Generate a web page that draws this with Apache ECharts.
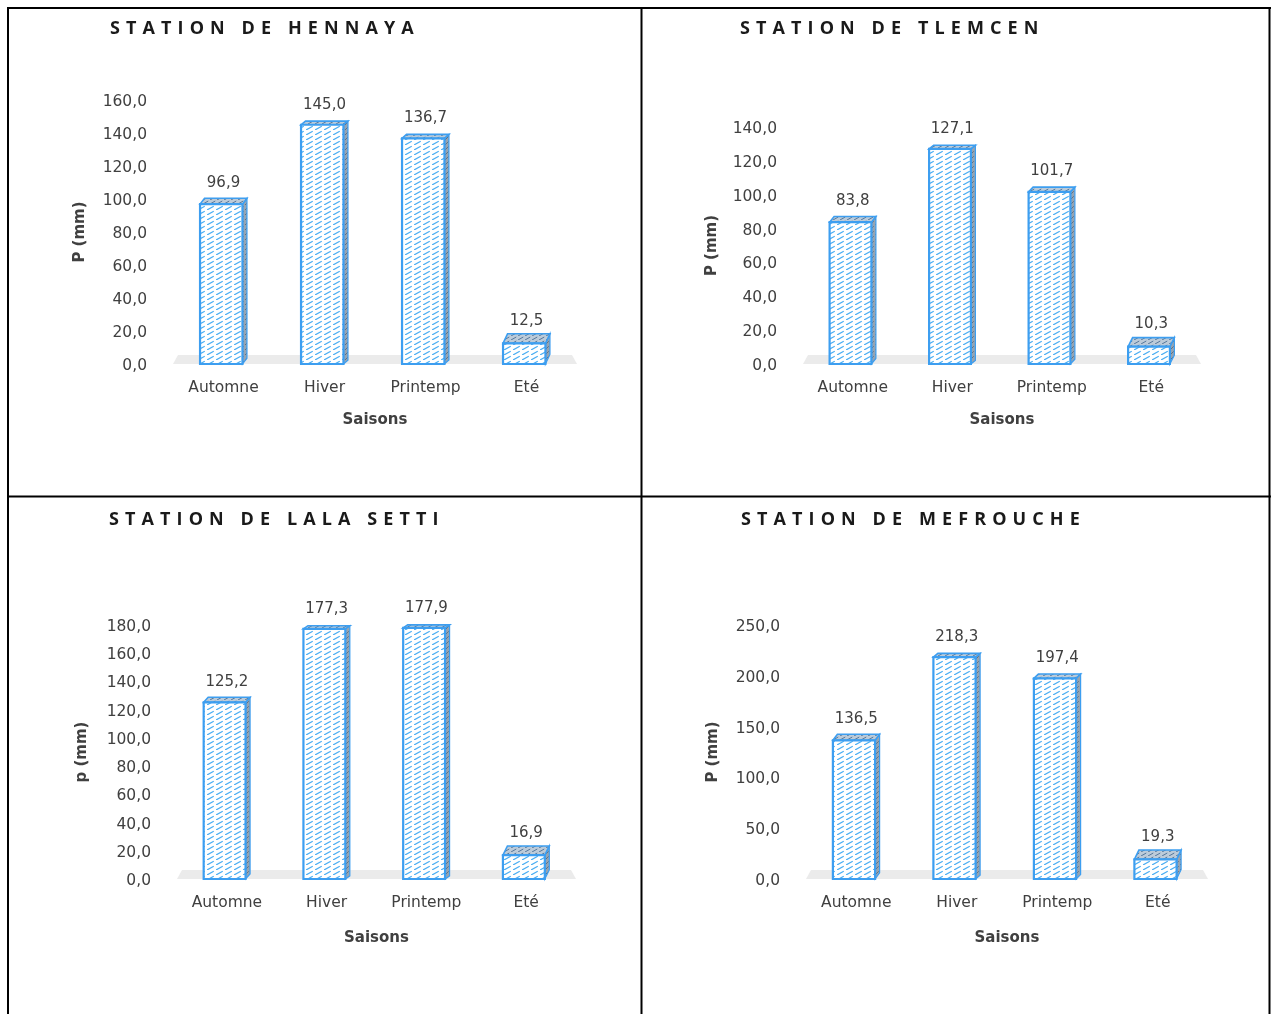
<!DOCTYPE html>
<html>
<head>
<meta charset="utf-8">
<script src="https://cdn.jsdelivr.net/npm/echarts@6/dist/echarts.min.js"></script>
<style>
  html, body { margin: 0; padding: 0; background: #fff; }
  #wrap { position: relative; width: 1271px; height: 1014px; overflow: hidden; }
  #chart { position: absolute; left: 0; top: 0; width: 1271px; height: 1014px; }
  .ttl { position: absolute; font-family: "Open Sans", sans-serif; font-weight: 700;
         font-size: 18px; letter-spacing: 6.1px; color: #1a1a1a; line-height: 22px; white-space: nowrap; }
</style>
</head>
<body>
<div id="wrap">
  <div id="chart"></div>
  <div class="ttl" style="left:110px; top:16px;">STATION DE HENNAYA</div>
  <div class="ttl" style="left:740px; top:16px;">STATION DE TLEMCEN</div>
  <div class="ttl" style="left:109px; top:507px;">STATION DE LALA SETTI</div>
  <div class="ttl" style="left:741px; top:507px;">STATION DE MEFROUCHE</div>
</div>
<script>
// Seasonal precipitation (mm) per station
const categories = ['Automne', 'Hiver', 'Printemp', 'Eté'];
const hennaya   = [96.9, 145.0, 136.7, 12.5];
const tlemcen   = [83.8, 127.1, 101.7, 10.3];
const lalaSetti = [125.2, 177.3, 177.9, 16.9];
const mefrouche = [136.5, 218.3, 197.4, 19.3];

const yNames    = ['P (mm)', 'P (mm)', 'p (mm)', 'P (mm)'];
const xName     = 'Saisons';
const yMax      = [160, 140, 180, 250];
const yInterval = [20, 20, 20, 50];

const stations = [hennaya, tlemcen, lalaSetti, mefrouche];

// panel layout (pixels)
const grids = [
  { left: 173, top: 100, width: 404, height: 264, nameGap: 85, xNameGap: 49 },
  { left: 803, top: 127, width: 398, height: 237, nameGap: 83, xNameGap: 49 },
  { left: 177, top: 625, width: 399, height: 254, nameGap: 87, xNameGap: 52 },
  { left: 806, top: 625, width: 402, height: 254, nameGap: 85, xNameGap: 52 }
];

const FONT = 'DejaVu Sans';
const fmt = v => v.toFixed(1).replace('.', ',');

// hatch patterns
function makeHatch(bg, line, w, h, lw) {
  const c = document.createElement('canvas');
  c.width = w; c.height = h;
  const ctx = c.getContext('2d');
  ctx.fillStyle = bg; ctx.fillRect(0, 0, w, h);
  ctx.strokeStyle = line; ctx.lineWidth = lw;
  ctx.beginPath();
  ctx.moveTo(0, h); ctx.lineTo(w * 0.75, h * 0.25);
  ctx.stroke();
  return { image: c, repeat: 'repeat' };
}
const frontFill = makeHatch('#ffffff', '#4aaef2', 9, 5, 1.2);
const topFill   = makeHatch('#bccbd9', '#55779a', 7, 4, 1);
const sideFill  = makeHatch('#97a4b1', '#5d7186', 5, 5, 1);
const EDGE = '#3d9ef0';

function renderBox(params, api) {
  const cs = params.coordSys;
  const i = api.value(0), v = api.value(1);
  const base = api.coord([i, 0]);
  const top = api.coord([i, v]);
  const band = api.size([1, 0])[0];
  const w = band * 0.42, dx = 4.5;
  const dy = 3 + (top[1] - cs.y) * 0.027;
  const x0 = base[0] - (w + dx) / 2, x1 = x0 + w;
  const yT = top[1], yB = base[1];
  return {
    type: 'group',
    children: [
      { type: 'polygon', shape: { points: [[x1, yT], [x1 + dx, yT - dy], [x1 + dx, yB - dy], [x1, yB]] },
        style: { fill: sideFill, stroke: EDGE, lineWidth: 1.2 } },
      { type: 'polygon', shape: { points: [[x0, yT], [x0 + dx, yT - dy], [x1 + dx, yT - dy], [x1, yT]] },
        style: { fill: topFill, stroke: EDGE, lineWidth: 1.6 } },
      { type: 'rect', shape: { x: x0, y: yT, width: w, height: yB - yT },
        style: { fill: frontFill, stroke: EDGE, lineWidth: 2.2 } },
      { type: 'text', x: base[0], y: yT - 11 - dy * 0.4,
        style: { text: fmt(v), align: 'center', verticalAlign: 'bottom',
                 font: '15px "' + FONT + '"', fill: '#404040' } }
    ]
  };
}

function renderFloor(params, api) {
  const cs = params.coordSys;
  const y0 = cs.y + cs.height;
  return {
    type: 'polygon',
    shape: { points: [[cs.x, y0], [cs.x + cs.width, y0], [cs.x + cs.width - 5, y0 - 9], [cs.x + 5, y0 - 9]] },
    style: { fill: '#ebebeb' }
  };
}

const option = {
  animation: false,
  backgroundColor: '#ffffff',
  grid: grids.map(g => ({ left: g.left, top: g.top, width: g.width, height: g.height })),
  xAxis: grids.map((g, k) => ({
    type: 'category', gridIndex: k, data: categories,
    name: xName, nameLocation: 'middle', nameGap: g.xNameGap,
    nameTextStyle: { fontFamily: FONT, fontWeight: 'bold', fontSize: 15, color: '#404040' },
    axisLine: { show: false }, axisTick: { show: false },
    axisLabel: { fontFamily: FONT, fontSize: 15.5, color: '#404040', margin: 16 }
  })),
  yAxis: grids.map((g, k) => ({
    type: 'value', gridIndex: k, min: 0, max: yMax[k], interval: yInterval[k],
    name: yNames[k], nameLocation: 'middle', nameGap: g.nameGap, nameRotate: 90,
    nameTextStyle: { fontFamily: FONT, fontWeight: 'bold', fontSize: 15, color: '#404040' },
    axisLine: { show: false }, axisTick: { show: false }, splitLine: { show: false },
    axisLabel: { color: '#404040', margin: 26,
                 formatter: v => '{t|' + fmt(v) + '}',
                 rich: { t: { fontFamily: FONT, fontSize: 15.5, color: '#404040', padding: [4, 0, 0, 0] } } }
  })),
  series: [].concat(
    stations.map((d, k) => ({
      type: 'custom', xAxisIndex: k, yAxisIndex: k, z: 1,
      renderItem: renderFloor, data: [[0, 0]], silent: true
    })),
    stations.map((d, k) => ({
      type: 'custom', xAxisIndex: k, yAxisIndex: k, z: 2,
      renderItem: renderBox, encode: { x: 0, y: 1 },
      data: d.map((v, i) => [i, v])
    }))
  ),
  graphic: [
    { type: 'line', shape: { x1: 8, y1: 7, x2: 8, y2: 1014 }, style: { stroke: '#000', lineWidth: 2 } },
    { type: 'line', shape: { x1: 7, y1: 8, x2: 1271, y2: 8 }, style: { stroke: '#000', lineWidth: 2 } },
    { type: 'line', shape: { x1: 641.5, y1: 8, x2: 641.5, y2: 1014 }, style: { stroke: '#000', lineWidth: 2 } },
    { type: 'line', shape: { x1: 8, y1: 496.5, x2: 1271, y2: 496.5 }, style: { stroke: '#000', lineWidth: 2 } },
    { type: 'line', shape: { x1: 1269.5, y1: 8, x2: 1269.5, y2: 1014 }, style: { stroke: '#000', lineWidth: 2 } }
  ]
};

const chart = echarts.init(document.getElementById('chart'), null, { renderer: 'canvas' });
chart.setOption(option);
</script>
</body>
</html>
